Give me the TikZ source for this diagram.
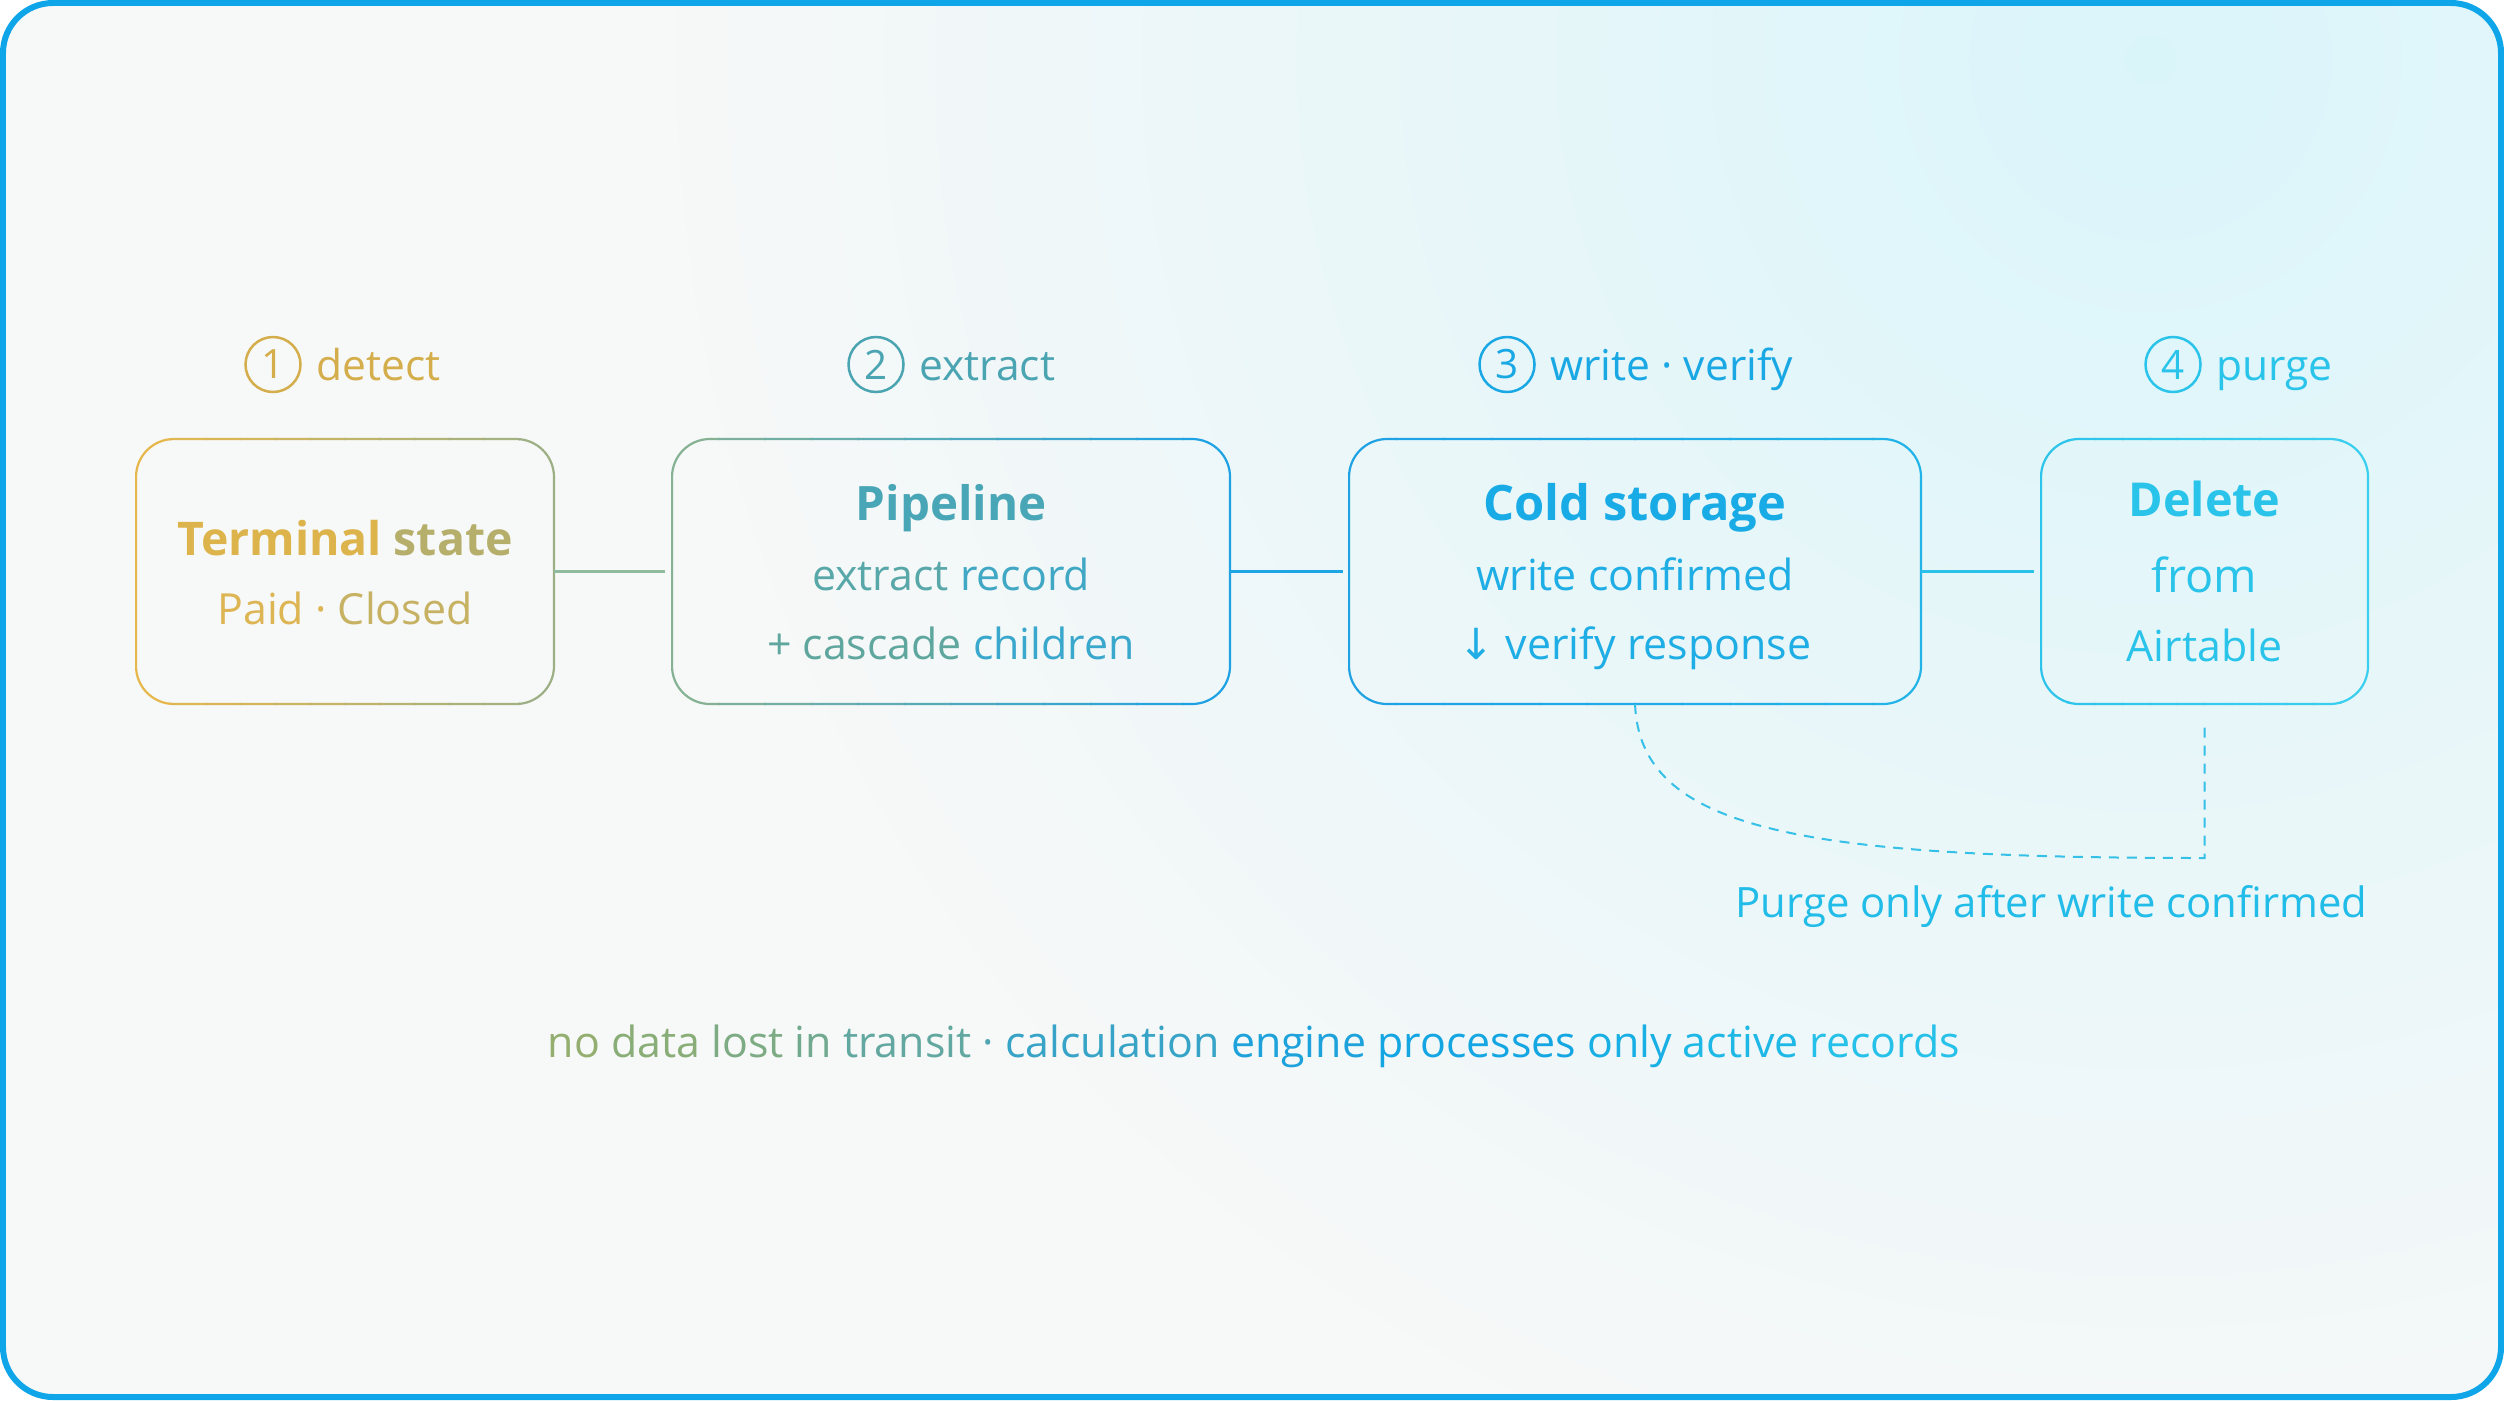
\documentclass[tikz,border=0pt]{standalone}
\usepackage{fontspec}
\setmainfont{Open Sans}
\newfontfamily\arrowfont{DejaVu Sans}
\usetikzlibrary{positioning,calc}

\definecolor{frameblue}{HTML}{0EA5E9}
\definecolor{bgwhite}{HTML}{F7F8F8}
\definecolor{bgcyan}{HTML}{DAF5FA}
\definecolor{cgold}{HTML}{E6B84C}
\definecolor{colive}{HTML}{9DB085}
\definecolor{cgreen}{HTML}{86B294}
\definecolor{cblue}{HTML}{1EA2E4}
\definecolor{csky}{HTML}{22B3E8}
\definecolor{ccyan}{HTML}{2CC4EB}
\definecolor{cpale}{HTML}{3ACFEE}
% text colours
\definecolor{tgold}{HTML}{D5AE4C}
\definecolor{tteal}{HTML}{4BA4B2}
\definecolor{tsky}{HTML}{1AA8E4}
\definecolor{tcyan}{HTML}{2AC4EB}
\definecolor{tpipe}{HTML}{48A6B6}
\definecolor{tcold}{HTML}{19ABE6}
\definecolor{tcoldline}{HTML}{1EADE4}
\definecolor{tnote}{HTML}{22BCE8}
\definecolor{lgreen}{HTML}{8FBB9E}
\definecolor{lblue}{HTML}{1EA6E4}
\definecolor{lcyan}{HTML}{2BC2EA}
\definecolor{lguard}{HTML}{34C0E7}

% gradient stroke for a box: node, left colour, right colour
\newcommand{\gradframe}[3]{%
  \foreach \k in {0,...,11}{%
    \pgfmathtruncatemacro{\mix}{100-\k*100/11}%
    \begin{scope}
      \path (#1.west) -- (#1.east) coordinate[pos=\k/12] (gl) coordinate[pos=\k/12+1/12] (gr);
      \clip ($(gl |- #1.north)+(-0.01,0.1)$) rectangle ($(gr |- #1.south)+(0.01,-0.1)$);
      \draw[stageframe, draw=#2!\mix!#3] (#1.south west) rectangle (#1.north east);
    \end{scope}}}

\tikzset{
  stage/.style={minimum height=2.65cm, outer sep=0pt, inner sep=0pt},
  stageframe/.style={line width=0.022cm, rounded corners=0.38cm},
  flow/.style={line width=0.022cm},
  guardline/.style={line width=0.02cm, dash pattern=on 0.1cm off 0.08cm},
  stepnum/.style={circle, draw, line width=0.025cm, minimum size=0.55cm, inner sep=0pt, font=\fontsize{11.5}{13}\selectfont},
  steptxt/.style={anchor=base west, inner sep=0pt, font=\fontsize{12.1}{14}\selectfont},
  stagetitle/.style={anchor=base, inner sep=0pt, font=\bfseries\fontsize{13.5}{17}\selectfont},
  stageline/.style={anchor=base, inner sep=0pt, font=\fontsize{12.2}{14}\selectfont},
  footline/.style={anchor=base, inner sep=0pt, font=\fontsize{12.2}{14}\selectfont},
}

\begin{document}
\begin{tikzpicture}
  \useasboundingbox[fill=white] (0,0) rectangle (25.04,-14);
  % background
  \fill[bgwhite, rounded corners=0.5cm] (0.03,-0.03) rectangle (25.01,-13.97);
  \begin{scope}
    \clip[rounded corners=0.5cm] (0.03,-0.03) rectangle (25.01,-13.97);
    \shade[inner color=bgcyan, outer color=bgwhite] (21.5,-0.6) circle (15);
  \end{scope}
  \draw[frameblue, line width=0.06cm, rounded corners=0.5cm] (0.03,-0.03) rectangle (25.01,-13.97);

  % stages
  \node[stage, minimum width=4.18cm] (term) at (3.45,-5.715) {};
  \node[stage, minimum width=5.58cm, right=1.18cm of term] (pipe) {};
  \node[stage, minimum width=5.72cm, right=1.19cm of pipe] (cold) {};
  \node[stage, minimum width=3.27cm, right=1.20cm of cold] (del) {};
  \gradframe{term}{cgold}{colive}
  \gradframe{pipe}{cgreen}{cblue}
  \gradframe{cold}{cblue}{csky}
  \gradframe{del}{ccyan}{cpale}

  \node[stagetitle, font=\bfseries\fontsize{13.2}{17}\selectfont] (term-t) at ([yshift=0.165cm]term.center) {\textcolor[HTML]{DDB44C}{Terminal} \textcolor[HTML]{B6AF6C}{state}};
  \node[stageline] (term-a) at ([yshift=-0.525cm]term.center) {\textcolor[HTML]{DDB553}{Paid ·} \textcolor[HTML]{C7B263}{Closed}};

  \node[stagetitle, text=tpipe] (pipe-t) at ([yshift=0.515cm]pipe.center) {Pipeline};
  \node[stageline] (pipe-a) at ([yshift=-0.185cm]pipe.center) {\textcolor[HTML]{58A7A9}{extract} \textcolor[HTML]{40A8C4}{record}};
  \node[stageline] (pipe-b) at ([yshift=-0.875cm]pipe.center) {\textcolor[HTML]{5FA79E}{+ cascade} \textcolor[HTML]{3AA8CC}{children}};

  \node[stagetitle, font=\bfseries\fontsize{13.9}{17}\selectfont, text=tcold] (cold-t) at ([yshift=0.515cm]cold.center) {Cold storage};
  \node[stageline, text=tcoldline] (cold-a) at ([yshift=-0.185cm]cold.center) {write confirmed};
  \node[stageline, text=tcoldline] (cold-b) at ([yshift=-0.875cm]cold.center) {{\arrowfont ↓} verify response};

  \node[stagetitle, text=tcyan, font=\bfseries\fontsize{13.3}{16}\selectfont] (del-t) at ([yshift=0.555cm]del.center) {Delete};
  \node[stageline, text=tcyan, font=\fontsize{13.3}{16}\selectfont] (del-a) at ([yshift=-0.205cm]del.center) {from};
  \node[stageline, text=tcyan] (del-b) at ([yshift=-0.895cm]del.center) {Airtable};

  % connectors
  \draw[flow, draw=lgreen] (term.east) -- ([xshift=-0.07cm]pipe.west);
  \draw[flow, draw=lblue] (pipe.east) -- ([xshift=-0.06cm]cold.west);
  \draw[flow, draw=lcyan] (cold.east) -- ([xshift=-0.07cm]del.west);

  % step labels
  \node[stepnum, draw=tgold, text=tgold] (n1) at (2.73,-3.645) {1};
  \node[steptxt, text=tgold] (s1) at ([xshift=0.14cm,yshift=-0.155cm]n1.east) {detect};
  \node[stepnum, draw=tteal, text=tteal] (n2) at (8.76,-3.645) {2};
  \node[steptxt, text=tteal] (s2) at ([xshift=0.14cm,yshift=-0.155cm]n2.east) {extract};
  \node[stepnum, draw=tsky, text=tsky] (n3) at (15.07,-3.645) {3};
  \node[steptxt, text=tsky] (s3) at ([xshift=0.14cm,yshift=-0.155cm]n3.east) {write · verify};
  \node[stepnum, draw=tcyan, text=tcyan] (n4) at (21.73,-3.645) {4};
  \node[steptxt, text=tcyan] (s4) at ([xshift=0.14cm,yshift=-0.155cm]n4.east) {purge};

  % purge guard
  \coordinate (bend) at ([yshift=-1.54cm]del.south);
  \coordinate (purge-end) at ([yshift=-0.21cm]del.south);
  \draw[guardline, draw=lguard] (cold.south) .. controls ($(cold.south)+(0.05,-1.26)$) and ($(bend)+(-4.05,0)$) .. (bend) -- (purge-end);
  \node[stageline, font=\fontsize{11.9}{14}\selectfont, anchor=base east, text=tnote] (guard-note) at ([yshift=-2.13cm]del.south east) {Purge only after write confirmed};

  % footer
  \node[footline] (foot) at (12.54,-10.57) {\textcolor[HTML]{93AE6E}{no} \textcolor[HTML]{89AD77}{data} \textcolor[HTML]{7DAB83}{lost} \textcolor[HTML]{71A98F}{in} \textcolor[HTML]{62A8A0}{transit} \textcolor[HTML]{4FA6B2}{·} \textcolor[HTML]{36A3C7}{calculation} \textcolor[HTML]{1DA2DC}{engine} \textcolor[HTML]{14A6E3}{processes} \textcolor[HTML]{18AFE5}{only} \textcolor[HTML]{1EB8E7}{active} \textcolor[HTML]{26C1E9}{records}};
\end{tikzpicture}
\end{document}
